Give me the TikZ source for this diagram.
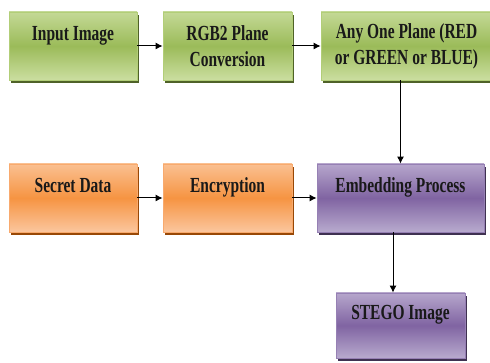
\documentclass[tikz,border=0pt]{standalone}
\usepackage{fontspec}
\setmainfont{Liberation Serif}[FakeStretch=0.72]
\usetikzlibrary{arrows.meta,shadows}
\definecolor{gtop}{RGB}{196,217,150}
\definecolor{gmid}{RGB}{155,187,89}
\definecolor{gbot}{RGB}{203,222,160}
\definecolor{gborder}{RGB}{178,206,120}
\definecolor{gshadow}{RGB}{79,98,40}
\definecolor{otop}{RGB}{250,192,145}
\definecolor{omid}{RGB}{246,148,66}
\definecolor{obot}{RGB}{251,198,158}
\definecolor{oborder}{RGB}{248,170,110}
\definecolor{oshadow}{RGB}{152,72,6}
\definecolor{ptop}{RGB}{182,166,204}
\definecolor{pmid}{RGB}{128,100,162}
\definecolor{pbot}{RGB}{184,170,206}
\definecolor{pborder}{RGB}{150,128,180}
\definecolor{pshadow}{RGB}{63,49,81}
\tikzset{
  box/.style={rectangle, draw=#1border, line width=0.8pt,
    top color=#1top, bottom color=#1bot, middle color=#1mid,
    drop shadow={shadow xshift=1.5pt, shadow yshift=-3pt, fill=#1shadow, opacity=1},
    inner sep=0pt, align=center, text=black!90,
    font=\fontsize{21.5}{26}\selectfont\bfseries},
  arr/.style={-{Latex[length=7pt,width=7pt]}, line width=1pt, black}
}
\begin{document}
\begin{tikzpicture}[x=1pt,y=-1pt]
\useasboundingbox (0,0) rectangle (490,363);
\clip (0,0) rectangle (490,363);
\node[box=g, minimum width=128pt, minimum height=68pt] (in) at (73,46) {Input Image\\ \mbox{}};
\node[box=g, minimum width=129pt, minimum height=68pt] (rgb) at (227.5,46) {RGB2 Plane\\Conversion};
\node[box=g, minimum width=171pt, minimum height=68pt] (any) at (406.5,46) {Any One Plane (RED\\or GREEN or BLUE)};
\node[box=o, minimum width=128pt, minimum height=68pt] (sec) at (73,198) {Secret Data\\ \mbox{}};
\node[box=o, minimum width=129pt, minimum height=68pt] (enc) at (227.5,198) {Encryption\\ \mbox{}};
\node[box=p, minimum width=167pt, minimum height=68pt] (emb) at (400.5,198) {Embedding Process\\ \mbox{}};
\node[box=p, minimum width=129pt, minimum height=65pt] (stego) at (400.5,325.5) {STEGO Image\\ \mbox{}};
\draw[arr] (in) -- (rgb);
\draw[arr] (rgb) -- (any);
\draw[arr] (any.south -| emb.north) -- (emb.north);
\draw[arr] (sec) -- (enc);
\draw[arr] (enc) -- (emb);
\draw[arr] ([xshift=-7.5pt]emb.south) -- ([xshift=-7.5pt]stego.north);
\end{tikzpicture}
\end{document}
